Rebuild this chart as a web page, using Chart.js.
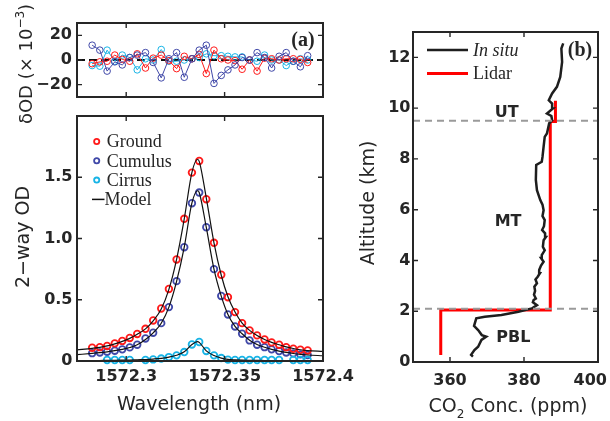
<!DOCTYPE html>
<html><head><meta charset="utf-8">
<script src="https://cdn.jsdelivr.net/npm/chart.js@4"></script>
<style>
html,body{margin:0;padding:0;background:#fff;width:610px;height:421px;overflow:hidden;position:relative}
canvas{position:absolute}
</style></head><body>
<canvas id="c1" width="360" height="130" style="left:0px;top:0px"></canvas>
<canvas id="c2" width="360" height="316" style="left:0px;top:105px"></canvas>
<canvas id="c3" width="270" height="421" style="left:340px;top:0px"></canvas>
<script>
// ---------- data ----------
const wavelength = [1572.2827,1572.2866,1572.2903,1572.2942,1572.2980,1572.3018,1572.3056,1572.3098,1572.3137,1572.3178,1572.3217,1572.3256,1572.3295,1572.3334,1572.3371,1572.3407,1572.3446,1572.3483,1572.3517,1572.3553,1572.3589,1572.3627,1572.3665,1572.3703,1572.3739,1572.3777,1572.3813,1572.3849,1572.3885,1572.3922];
const groundOD  = [0.108,0.113,0.123,0.144,0.164,0.188,0.221,0.263,0.331,0.429,0.588,0.829,1.161,1.538,1.633,1.321,0.965,0.704,0.521,0.399,0.309,0.250,0.209,0.176,0.152,0.133,0.113,0.100,0.092,0.086];
const cumulusOD = [0.064,0.070,0.076,0.084,0.095,0.111,0.133,0.184,0.231,0.309,0.440,0.652,0.929,1.288,1.375,1.092,0.750,0.531,0.380,0.282,0.223,0.168,0.133,0.113,0.095,0.081,0.070,0.062,0.054,0.049];
const cirrusOD  = [null,null,0.008,0.008,0.008,0.008,null,0.008,0.013,0.020,0.032,0.046,0.073,0.135,0.155,0.082,0.046,0.024,0.011,0.008,0.008,0.008,0.008,0.008,0.008,0.008,null,0.008,0.008,0.008];

const modelWavelength = [1572.275,1572.2827,1572.2866,1572.2903,1572.2942,1572.2980,1572.3018,1572.3056,1572.3098,1572.3137,1572.3178,1572.3217,1572.3256,1572.3295,1572.3334,1572.3362,1572.3371,1572.3407,1572.3446,1572.3483,1572.3517,1572.3553,1572.3589,1572.3627,1572.3665,1572.3703,1572.3739,1572.3777,1572.3813,1572.3849,1572.3885,1572.3922,1572.4];
const modelGround  = [0.090,0.103,0.111,0.123,0.140,0.160,0.185,0.218,0.262,0.328,0.425,0.585,0.830,1.160,1.540,1.645,1.630,1.330,0.965,0.700,0.525,0.400,0.310,0.250,0.208,0.176,0.152,0.133,0.115,0.102,0.092,0.085,0.078];
const modelCumulus = [0.052,0.062,0.068,0.075,0.084,0.095,0.110,0.132,0.175,0.230,0.308,0.440,0.650,0.930,1.290,1.390,1.375,1.090,0.750,0.530,0.380,0.283,0.222,0.170,0.135,0.112,0.095,0.081,0.070,0.061,0.054,0.049,0.043];
const modelCirrus  = [0.002,0.003,0.004,0.005,0.006,0.007,0.008,0.010,0.012,0.016,0.022,0.032,0.047,0.075,0.135,0.158,0.152,0.083,0.045,0.024,0.013,0.009,0.007,0.006,0.005,0.004,0.004,0.003,0.003,0.003,0.002,0.002,0.002];

const groundRes  = [-3,-1.5,-1,4,0.5,-1,5,-6.5,1.5,4,-0.5,-7,3,1,4.5,-11,8,1,0,-0.5,-7.5,0,-9,1.5,1,0,1,1,0.5,-2];
const cumulusRes = [12,8,-9,-1.5,-4,2,4,6,-2,-14.5,1,6,-14,1,8,12,-19,-12.5,-8,-4,2,0,6,2,-6.5,3,6,-1,-5.5,3.5];
const cirrusRes  = [-4.5,-5,8,-1,4,2,-8,1,0,8.5,-1,-1,0,1,2,5,3.5,3.5,3,2.5,2.5,0,-1,4,0,0,-4.5,-1,1,0];

const seriesNames = ['Ground','Cumulus','Cirrus','Model'];
const wlTicks = [1572.3,1572.35,1572.4];
const wlTickLabels = ['1572.3','1572.35','1572.4'];
const odTicks = [0,0.5,1,1.5];
const resTicks = [-20,0,20];

const insituConc = [366.2,365.7,366.6,367.6,368.5,369.8,368.6,367.6,366.5,367.1,369.4,373.9,378.5,382.1,383.5,382.4,382.6,383.2,382.7,383.0,382.8,383.5,383.1,383.7,384.3,384.1,384.6,385.3,384.6,384.8,385.6,385.1,385.3,385.9,385.7,384.9,385.4,385.6,385.0,385.3,385.0,384.4,383.5,383.2,383.3,384.8,385.0,385.3,385.6,386.2,386.8,387.6,387.4,386.2,387.8,387.6,386.7,387.6,388.9,389.8,390.3,390.1,390.6];
const insituAlt  = [0.21,0.28,0.47,0.60,0.87,1.00,1.06,1.26,1.42,1.72,1.78,1.85,1.98,2.11,2.24,2.35,2.44,2.50,2.65,2.80,2.97,3.10,3.25,3.36,3.50,3.62,3.80,3.95,4.10,4.21,4.40,4.54,4.80,4.92,5.07,5.20,5.35,5.59,5.75,5.98,6.20,6.38,6.77,7.17,7.76,7.89,8.08,8.48,8.87,9.00,9.40,9.53,9.69,9.79,9.99,10.18,10.31,10.58,10.84,11.23,11.82,12.35,12.55];
const lidarConc = [357.5,357.5,387.1,387.1,388.5,388.5];
const lidarAlt  = [0.28,2.05,2.05,9.47,9.47,10.29];
const layerBounds = [2.1,9.5];
const layerNames = ['PBL','MT','UT'];
const layerLabelConc = [377.1,375.7,375.3];
const layerLabelAlt  = [0.97,5.52,9.81];
const profileNames = ['In situ','Lidar'];
const concTicks = [360,380,400];
const altTicks = [0,2,4,6,8,10,12];

// ---------- style ----------
const C = {ground:'#ff1a1a', cumulus:'#4048a8', cirrus:'#18b4e6', ink:'#262626'};
const SANS = "'DejaVu Sans', sans-serif";
const SERIF = "'Liberation Serif', 'Times New Roman', serif";
const tickFont = {family:SANS, size:16, weight:'bold'};
Chart.defaults.font.family = SANS;

const pts = (xs, ys) => xs.map((x,i)=>({x, y: ys[i]}));
const minus = s => String(s).replace('-', '\u2212');
const noGrid = {display:false, drawTicks:false};

function framePlugin(xTicks, yTicks){
  return {id:'frame', afterDraw(chart){
    const {ctx, chartArea:a, scales:{x, y}} = chart;
    ctx.save();
    ctx.strokeStyle = C.ink; ctx.lineWidth = 1.4;
    ctx.beginPath();
    const tl = 5;
    xTicks.forEach(v=>{ const p = x.getPixelForValue(v);
      ctx.moveTo(p, a.bottom); ctx.lineTo(p, a.bottom - tl);
      ctx.moveTo(p, a.top); ctx.lineTo(p, a.top + tl); });
    yTicks.forEach(v=>{ const p = y.getPixelForValue(v);
      ctx.moveTo(a.left, p); ctx.lineTo(a.left + tl, p);
      ctx.moveTo(a.right, p); ctx.lineTo(a.right - tl, p); });
    ctx.stroke();
    ctx.lineWidth = 2;
    ctx.strokeRect(a.left, a.top, a.right - a.left, a.bottom - a.top);
    ctx.restore();
  }};
}
function fitX(h){ return s => { s.height = h; s.paddingLeft = 0; s.paddingRight = 0; }; }
function fitY(w){ return s => { s.width = w; s.paddingTop = 0; s.paddingBottom = 0; }; }
function setTicks(arr){ return s => { s.ticks = arr.map(v=>({value:v})); }; }

const base = {responsive:false, animation:false, events:[],
  plugins:{legend:{display:false}, tooltip:{enabled:false}}};

// ---------- residual panel ----------
function resDs(vals, color){
  return {data: pts(wavelength, vals), showLine:true, borderColor:color, borderWidth:1,
    backgroundColor:'rgba(0,0,0,0)', pointRadius:3.3, pointBorderWidth:1,
    pointBackgroundColor:'rgba(0,0,0,0)', pointBorderColor:color, clip:6};
}
new Chart(document.getElementById('c1'), {
  type:'scatter',
  data:{datasets:[resDs(cumulusRes, C.cumulus), resDs(groundRes, C.ground), resDs(cirrusRes, C.cirrus)]},
  options:Object.assign({}, base, {
    layout:{padding:{top:23, right:37, bottom:33, left:0}},
    scales:{
      x:{type:'linear', display:false, min:1572.275, max:1572.4},
      y:{type:'linear', min:-30, max:30, grid:noGrid, border:{display:false},
        ticks:{font:tickFont, color:C.ink, padding:5, callback:v=>minus(v)},
        afterBuildTicks:setTicks(resTicks), afterFit:fitY(77)}
    }
  }),
  plugins:[framePlugin(wlTicks, resTicks), {
    id:'zero', beforeDatasetsDraw(chart){
      const {ctx, chartArea:a, scales:{y}} = chart; const p = y.getPixelForValue(0);
      ctx.save(); ctx.strokeStyle = '#111'; ctx.lineWidth = 2; ctx.setLineDash([8,4]);
      ctx.beginPath(); ctx.moveTo(a.left, p); ctx.lineTo(a.right, p); ctx.stroke(); ctx.restore();
    },
    afterDraw(chart){
      const ctx = chart.ctx; ctx.save();
      ctx.fillStyle = C.ink; ctx.font = "bold 20px " + SERIF; ctx.textAlign = 'center'; ctx.textBaseline = 'middle';
      ctx.fillText('(a)', 303, 41);
      // y title: δOD (× 10^-3)
      ctx.translate(32, 64); ctx.rotate(-Math.PI/2);
      const f1 = "18px " + SANS, f2 = "12px " + SANS;
      ctx.font = f1; const w1 = ctx.measureText('\u03b4OD (\u00d7 10').width, w3 = ctx.measureText(')').width;
      ctx.font = f2; const w2 = ctx.measureText('\u22123').width;
      let x0 = -(w1 + w2 + w3)/2;
      ctx.textAlign = 'left'; ctx.textBaseline = 'alphabetic';
      ctx.font = f1; ctx.fillText('\u03b4OD (\u00d7 10', x0, 0);
      ctx.font = f2; ctx.fillText('\u22123', x0 + w1, -8);
      ctx.font = f1; ctx.fillText(')', x0 + w1 + w2, 0);
      ctx.restore();
    }
  }]
});

// ---------- main OD panel ----------
function markDs(vals, color, order){
  return {data: pts(wavelength, vals), showLine:false, borderColor:color, backgroundColor:'rgba(0,0,0,0)',
    pointRadius:3.3, pointBorderWidth:1.8, pointBackgroundColor:'rgba(0,0,0,0)', pointBorderColor:color, clip:6, order};
}
function modelDs(vals){
  return {data: pts(modelWavelength, vals), showLine:true, borderColor:'#111', borderWidth:1.2,
    pointRadius:0, cubicInterpolationMode:'monotone', order:0};
}
new Chart(document.getElementById('c2'), {
  type:'scatter',
  data:{datasets:[markDs(groundOD, C.ground, 2), markDs(cumulusOD, C.cumulus, 3), markDs(cirrusOD, C.cirrus, 1),
    modelDs(modelGround), modelDs(modelCumulus), modelDs(modelCirrus)]},
  options:Object.assign({}, base, {
    layout:{padding:{top:11, right:37, bottom:0, left:0}},
    scales:{
      x:{type:'linear', min:1572.275, max:1572.4, grid:noGrid, border:{display:false},
        ticks:{font:tickFont, color:C.ink, padding:6, autoSkip:false, maxRotation:0,
          callback:(v)=>{ const i = wlTicks.findIndex(t=>Math.abs(t-v)<1e-6); return i>=0 ? wlTickLabels[i] : ''; }},
        afterBuildTicks:setTicks(wlTicks), afterFit:fitX(60)},
      y:{type:'linear', min:0, max:2, grid:noGrid, border:{display:false},
        ticks:{font:tickFont, color:C.ink, padding:4.5},
        afterBuildTicks:setTicks(odTicks), afterFit:fitY(77)}
    }
  }),
  plugins:[framePlugin(wlTicks, odTicks), {
    id:'deco', afterDraw(chart){
      const ctx = chart.ctx; ctx.save();
      // legend
      const cols = [C.ground, C.cumulus, C.cirrus];
      ctx.font = "18px " + SERIF; ctx.fillStyle = C.ink; ctx.textBaseline = 'middle'; ctx.textAlign = 'left';
      seriesNames.forEach((name, i)=>{
        const yy = 36.5 + i*19.3;
        if (i < 3) {
          ctx.strokeStyle = cols[i]; ctx.lineWidth = 1.8;
          ctx.beginPath(); ctx.arc(96.7, yy, 2.6, 0, Math.PI*2); ctx.stroke();
        } else {
          ctx.strokeStyle = '#111'; ctx.lineWidth = 1.5;
          ctx.beginPath(); ctx.moveTo(92, yy); ctx.lineTo(104.5, yy); ctx.stroke();
        }
        ctx.fillStyle = C.ink; ctx.fillText(name, i < 3 ? 106.7 : 104.5, yy + 1);
      });
      // axis titles
      ctx.font = "19px " + SANS; ctx.textAlign = 'center'; ctx.textBaseline = 'alphabetic';
      ctx.fillText('Wavelength (nm)', 199, 305);
      ctx.translate(29, 132); ctx.rotate(-Math.PI/2);
      ctx.fillText('2\u2212way OD', 0, 0);
      ctx.restore();
    }
  }]
});

// ---------- profile panel ----------
new Chart(document.getElementById('c3'), {
  type:'scatter',
  data:{datasets:[
    {data: pts(insituConc, insituAlt), showLine:true, borderColor:'#1e1e1e', borderWidth:2.5, pointRadius:0, order:1},
    {data: pts(lidarConc, lidarAlt), showLine:true, borderColor:'#ff0000', borderWidth:3, pointRadius:0, order:2}
  ]},
  options:Object.assign({}, base, {
    layout:{padding:{top:32, right:12, bottom:0, left:0}},
    scales:{
      x:{type:'linear', min:350, max:400, grid:noGrid, border:{display:false},
        ticks:{display:false}, afterBuildTicks:setTicks(concTicks), afterFit:fitX(59)},
      y:{type:'linear', min:0, max:13, grid:noGrid, border:{display:false},
        ticks:{font:tickFont, color:C.ink, padding:2.5},
        afterBuildTicks:setTicks(altTicks), afterFit:fitY(73)}
    }
  }),
  plugins:[framePlugin(concTicks, altTicks), {
    id:'deco', afterDatasetsDraw(chart){
      const {ctx, chartArea:a, scales:{x, y}} = chart; ctx.save();
      ctx.strokeStyle = '#9a9a9a'; ctx.lineWidth = 2; ctx.setLineDash([7,5]);
      layerBounds.forEach(v=>{ const p = y.getPixelForValue(v);
        ctx.beginPath(); ctx.moveTo(a.left, p); ctx.lineTo(a.right, p); ctx.stroke(); });
      ctx.setLineDash([]);
      ctx.fillStyle = C.ink; ctx.font = "bold 16px " + SANS; ctx.textAlign = 'center'; ctx.textBaseline = 'middle';
      layerNames.forEach((n,i)=> ctx.fillText(n, x.getPixelForValue(layerLabelConc[i]), y.getPixelForValue(layerLabelAlt[i])));
      // x tick labels (kept inside the figure edge)
      concTicks.forEach(v=>{
        const s = String(v), w = ctx.measureText(s).width;
        const px = Math.min(x.getPixelForValue(v), chart.width - 3 - w/2);
        ctx.fillText(s, px, a.bottom + 19);
      });
      ctx.restore();
    },
    afterDraw(chart){
      const ctx = chart.ctx; ctx.save();
      // legend
      const lc = ['#1e1e1e', '#ff0000'], lw = [2.5, 3];
      profileNames.forEach((n,i)=>{
        const yy = 50 + i*23.5;
        ctx.strokeStyle = lc[i]; ctx.lineWidth = lw[i];
        ctx.beginPath(); ctx.moveTo(87, yy); ctx.lineTo(128, yy); ctx.stroke();
        ctx.fillStyle = C.ink; ctx.font = (i === 0 ? "italic " : "") + "18px " + SERIF;
        ctx.textAlign = 'left'; ctx.textBaseline = 'middle'; ctx.fillText(n, 133, yy + 1);
      });
      ctx.font = "bold 20px " + SERIF; ctx.textAlign = 'center'; ctx.textBaseline = 'middle';
      ctx.fillText('(b)', 240, 51);
      // x title with subscript
      const f1 = "19px " + SANS, f2 = "12px " + SANS;
      ctx.textBaseline = 'alphabetic'; ctx.textAlign = 'left';
      ctx.font = f1; const wa = ctx.measureText('CO').width, wc = ctx.measureText(' Conc. (ppm)').width;
      ctx.font = f2; const wb = ctx.measureText('2').width;
      let x0 = 168 - (wa + wb + wc)/2;
      ctx.font = f1; ctx.fillText('CO', x0, 412);
      ctx.font = f2; ctx.fillText('2', x0 + wa, 418);
      ctx.font = f1; ctx.fillText(' Conc. (ppm)', x0 + wa + wb, 412);
      // y title
      ctx.textAlign = 'center'; ctx.font = f1;
      ctx.translate(34, 203); ctx.rotate(-Math.PI/2);
      ctx.fillText('Altitude (km)', 0, 0);
      ctx.restore();
    }
  }]
});
</script>
</body></html>
